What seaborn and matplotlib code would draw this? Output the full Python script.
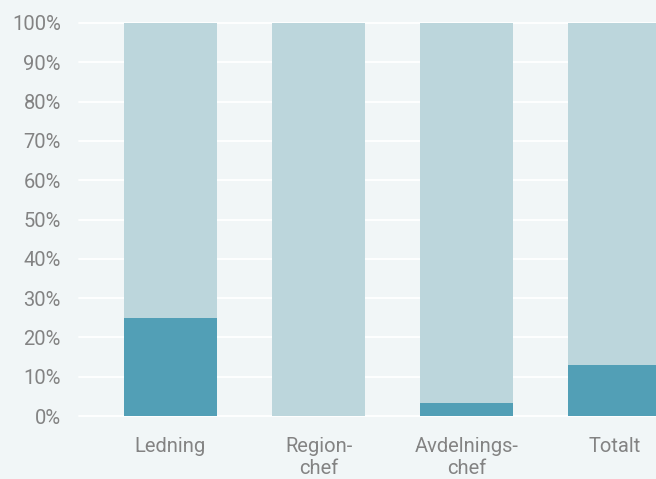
import matplotlib.pyplot as plt
import seaborn as sns
import pandas as pd

categories = ["Ledning", "Region-\nchef", "Avdelnings-\nchef", "Totalt"]
share_dark = [25, 0, 3.3, 13]
share_total = [100, 100, 100, 100]
yticks = list(range(0, 101, 10))

bg = "#f1f6f7"
dark = "#529fb6"
light = "#bcd6dc"
text_grey = "#838383"

sns.set_theme(style="white")
plt.rcParams["font.family"] = ["Roboto", "DejaVu Sans"]

df = pd.DataFrame({"cat": categories, "dark": share_dark, "total": share_total})

fig = plt.figure(figsize=(6.56, 4.79), dpi=100, facecolor=bg)
ax = fig.add_axes([79 / 656, 1 - 416 / 479, 1 - 79 / 656, (416 - 23) / 479])
ax.set_facecolor(bg)

sns.barplot(data=df, x="cat", y="total", color=light, width=0.63, ax=ax,
            saturation=1, linewidth=0, edgecolor="none")
sns.barplot(data=df, x="cat", y="dark", color=dark, width=0.63, ax=ax,
            saturation=1, linewidth=0, edgecolor="none")

ax.set_ylim(0, 100)
ax.set_xlim(-0.618, 3.28)
ax.set_yticks(yticks)
ax.set_yticklabels([f"{t}%" for t in yticks])
ax.yaxis.grid(True, color="white", linewidth=1.3)
ax.set_axisbelow(True)
for g in ax.get_ygridlines():
    g.set_clip_on(False)
ax.set_xlabel("")
ax.set_ylabel("")
sns.despine(ax=ax, left=True, bottom=True)
ax.tick_params(axis="both", length=0, labelsize=14.5, colors=text_grey)
ax.tick_params(axis="y", pad=13)
ax.tick_params(axis="x", pad=15)

fig.savefig("out.png", dpi=100, facecolor=bg)
